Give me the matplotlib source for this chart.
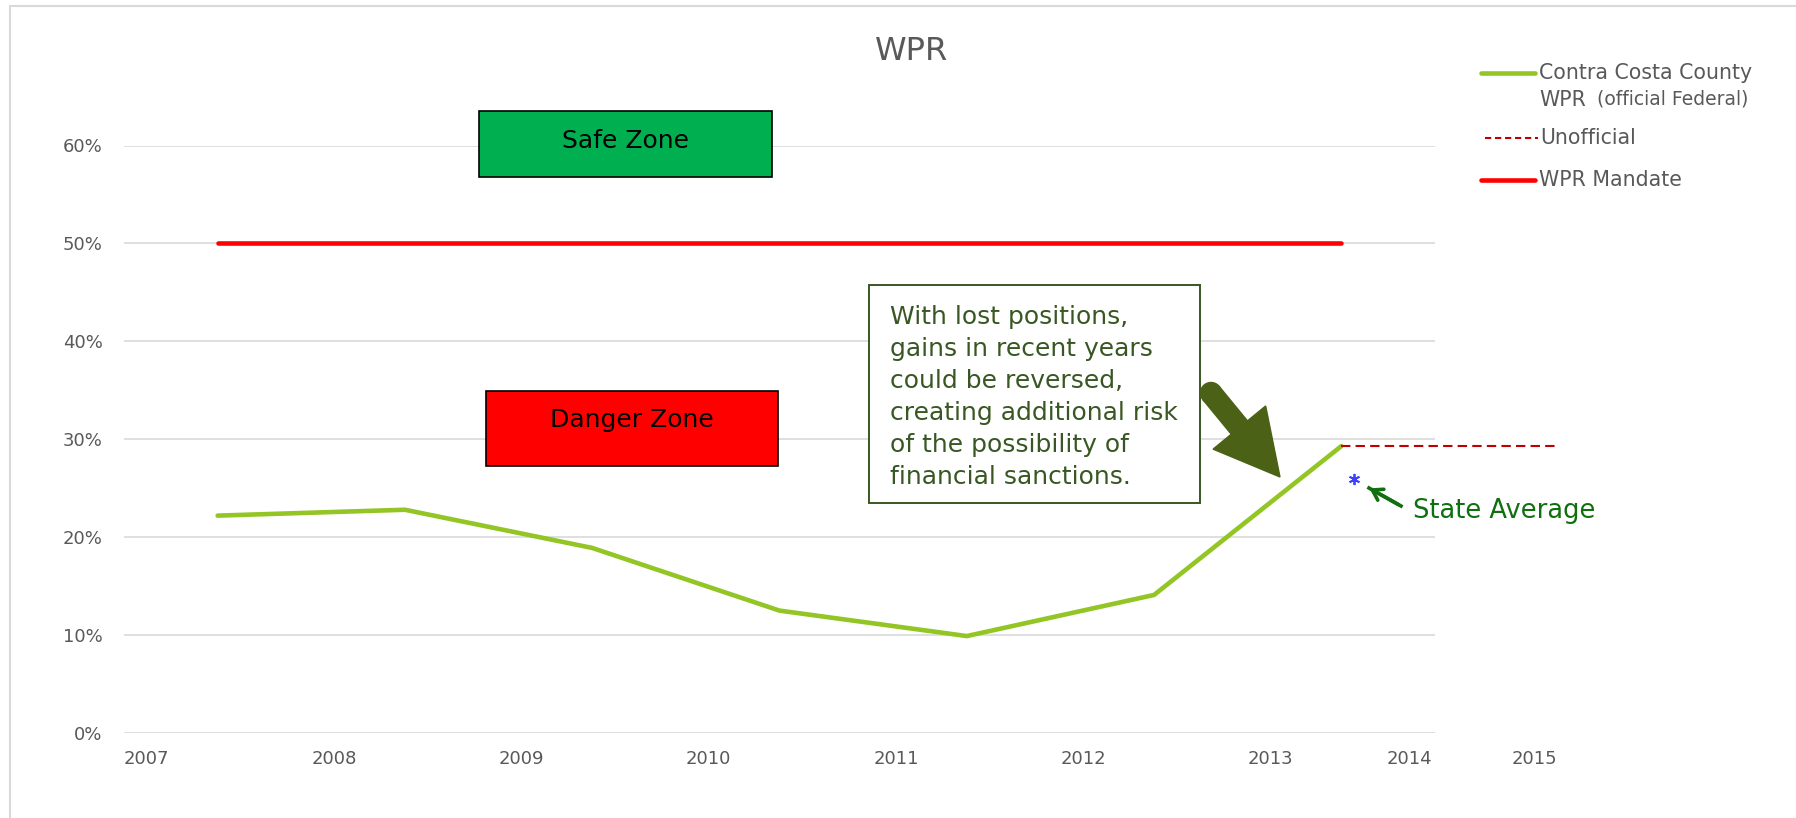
import matplotlib
matplotlib.use("Agg")
import matplotlib.pyplot as plt
import matplotlib.lines as lines
import matplotlib.transforms as mtransforms
from matplotlib.patches import Rectangle, FancyArrow, Circle
from matplotlib.ticker import PercentFormatter
import numpy as np

# data
years = [2007, 2008, 2009, 2010, 2011, 2012, 2013]
wpr_county = [0.222, 0.228, 0.189, 0.125, 0.099, 0.141, 0.293]
wpr_mandate = [0.50, 0.50, 0.50, 0.50, 0.50, 0.50, 0.50]
unofficial_x = [6, 7.14]
unofficial_y = [0.293, 0.293]
state_avg_x = [6.07]
state_avg_y = [0.259]
yticks = [0.0, 0.1, 0.2, 0.3, 0.4, 0.5, 0.6]
xtick_labels = ["2007", "2008", "2009", "2010", "2011", "2012", "2013", "2014", "2015"]
xtick_pos = [-0.5, 0.5, 1.5, 2.5, 3.5, 4.5, 5.5, 6.24, 6.91]

W, H = 1796, 818
GREY = "#595959"
DKGREEN = "#385723"


def fx(x):
    return x / W


def fy(y):
    return 1 - y / H


fig = plt.figure(figsize=(W / 100, H / 100), dpi=100)
fig.patch.set_facecolor("white")

# outer chart frame (only left/top edges visible)
fig.add_artist(Rectangle((fx(10), fy(H + 20)), fx(W + 20), (H + 14) / H,
                         transform=fig.transFigure, fill=False,
                         edgecolor="#D9D9D9", lw=1.5))

ax = fig.add_axes([fx(124), fy(733), fx(1435 - 124), (733 - 145.5) / H])
ax.set_xlim(-0.5, 6.5)
ax.set_ylim(0, 0.6)
for s in ax.spines.values():
    s.set_visible(False)
ax.set_yticks(yticks)
ax.yaxis.set_major_formatter(PercentFormatter(1.0, decimals=0))
ax.tick_params(axis="y", length=0, pad=15.5, labelsize=13, labelcolor=GREY)
ax.set_xticks([])
ax.yaxis.grid(True, color="#D9D9D9", lw=1.2)
ax.set_axisbelow(True)

idx = np.arange(len(years))
ax.plot(idx, wpr_mandate, color="#FF0000", lw=3.3, solid_capstyle="round", zorder=3)
ax.plot(idx, wpr_county, color="#93C524", lw=3.3, solid_capstyle="round", zorder=3)
ax.plot(unofficial_x, unofficial_y, color="#C00000", lw=1.5, dashes=(4.5, 2.5),
        clip_on=False, zorder=3)
ax.plot(state_avg_x, state_avg_y, ls="none", marker=(6, 2, 0), ms=8, mew=1.3,
        color="#3F3FFF", clip_on=False, zorder=4)

# x labels, left-aligned at category boundaries
trans = mtransforms.blended_transform_factory(ax.transData, ax.transAxes)
for p, lab in zip(xtick_pos, xtick_labels):
    ax.text(p, -26 / 587.5, lab, transform=trans, ha="left", va="center",
            fontsize=13, color=GREY, clip_on=False)

# title
fig.text(fx(912), fy(51), "WPR", ha="center", va="center", fontsize=23, color=GREY)

# zone boxes
fig.add_artist(Rectangle((fx(479), fy(177)), fx(772 - 479), (177 - 111) / H,
                         transform=fig.transFigure, facecolor="#00B050",
                         edgecolor="black", lw=1.2))
fig.text(fx(625), fy(141), "Safe Zone", ha="center", va="center", fontsize=18, color="black")
fig.add_artist(Rectangle((fx(486), fy(466)), fx(778 - 486), (466 - 391) / H,
                         transform=fig.transFigure, facecolor="#FF0000",
                         edgecolor="black", lw=1.2))
fig.text(fx(632), fy(420), "Danger Zone", ha="center", va="center", fontsize=18, color="black")

# annotation box
fig.add_artist(Rectangle((fx(869), fy(503)), fx(1200 - 869), (503 - 285) / H,
                         transform=fig.transFigure, facecolor="white",
                         edgecolor=DKGREEN, lw=1.4, zorder=5))
fig.text(fx(890), fy(397),
         "With lost positions,\ngains in recent years\ncould be reversed,\n"
         "creating additional risk\nof the possibility of\nfinancial sanctions.",
         ha="left", va="center", fontsize=18, color=DKGREEN, linespacing=1.43, zorder=6)

# big arrow (display pixels, y from bottom)
tail = (1211, H - 393)
tip = (1280, H - 477)
dx, dy = tip[0] - tail[0], tip[1] - tail[1]
big = FancyArrow(tail[0], tail[1], dx, dy, width=21, head_width=68, head_length=64,
                 length_includes_head=True, color="#4B6116", transform=None, zorder=6)
fig.add_artist(big)
fig.add_artist(Circle(tail, 10.5, color="#4B6116", transform=None, zorder=6))

# state average pointer
fig.add_artist(lines.Line2D([fx(1401), fx(1369)], [fy(506), fy(488)],
                            transform=fig.transFigure, color="#107010", lw=2.6))
ax.annotate("", xy=(fx(1367), fy(487)), xycoords="figure fraction",
            xytext=(fx(1401), fy(506)), textcoords="figure fraction",
            arrowprops=dict(arrowstyle="->,head_length=0.7,head_width=0.45",
                            color="#107010", lw=2.6))
fig.text(fx(1413), fy(518), "State Average", ha="left", va="baseline", fontsize=18.5,
         color="#107010")

# legend
fig.add_artist(lines.Line2D([fx(1481), fx(1535)], [fy(73), fy(73)], transform=fig.transFigure,
                            color="#93C524", lw=3.3, solid_capstyle="round"))
fig.text(fx(1539), fy(73), "Contra Costa County", ha="left", va="center", fontsize=14.8, color=GREY)
fig.text(fx(1539), fy(100), "WPR", ha="left", va="center", fontsize=14.8, color=GREY)
fig.text(fx(1597), fy(99), "(official Federal)", ha="left", va="center", fontsize=13.5, color=GREY)
fig.add_artist(lines.Line2D([fx(1485), fx(1538)], [fy(138), fy(138)], transform=fig.transFigure,
                            color="#C00000", lw=1.5, dashes=(3, 1.8)))
fig.text(fx(1540), fy(138), "Unofficial", ha="left", va="center", fontsize=14.8, color=GREY)
fig.add_artist(lines.Line2D([fx(1481), fx(1535)], [fy(180), fy(180)], transform=fig.transFigure,
                            color="#FF0000", lw=3.3, solid_capstyle="round"))
fig.text(fx(1539), fy(180), "WPR Mandate", ha="left", va="center", fontsize=14.8, color=GREY)

fig.savefig("out.png", dpi=100)
